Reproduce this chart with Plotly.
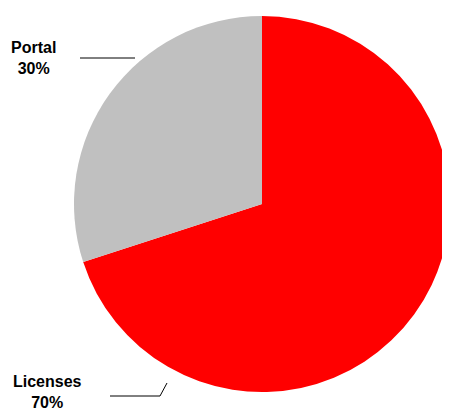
import plotly.graph_objects as go

labels = ["Licenses", "Portal"]
values = [70, 30]
colors = ["#FF0000", "#C0C0C0"]

# page body has an 8px default margin; size the figure to fit the window
OFF = 8
W, H = 450 - OFF, 411 - OFF


def px(x):
    return (x - OFF) / W


def py(y):
    return 1 - (y - OFF) / H


fig = go.Figure(go.Pie(
    labels=labels, values=values, sort=False, direction="clockwise", rotation=0,
    marker=dict(colors=colors, line=dict(width=0)),
    textinfo="none", hoverinfo="label+percent",
    domain=dict(x=[px(74), 1.0], y=[py(392), py(16)]),
))

font = dict(family="Liberation Sans, Arial, sans-serif", size=16, color="black")

annotations = [
    dict(x=px(33), y=py(58), text=f"<b>{labels[1]}<br>{values[1]}%</b>"),
    dict(x=px(47), y=py(392), text=f"<b>{labels[0]}<br>{values[0]}%</b>"),
]
for a in annotations:
    a.update(xref="paper", yref="paper", showarrow=False, font=font,
             xanchor="center", yanchor="middle", align="center")

shapes = [
    dict(type="line", xref="paper", yref="paper", x0=px(80), y0=py(58), x1=px(135), y1=py(58),
         line=dict(color="black", width=1)),
    dict(type="line", xref="paper", yref="paper", x0=px(110), y0=py(396), x1=px(160), y1=py(396),
         line=dict(color="black", width=1)),
    dict(type="line", xref="paper", yref="paper", x0=px(160), y0=py(396), x1=px(167), y1=py(383),
         line=dict(color="black", width=1)),
]

fig.update_layout(
    width=W, height=H, margin=dict(l=0, r=0, t=0, b=0),
    paper_bgcolor="white", plot_bgcolor="white", showlegend=False,
    annotations=annotations, shapes=shapes,
)

fig.write_html("out.html")
